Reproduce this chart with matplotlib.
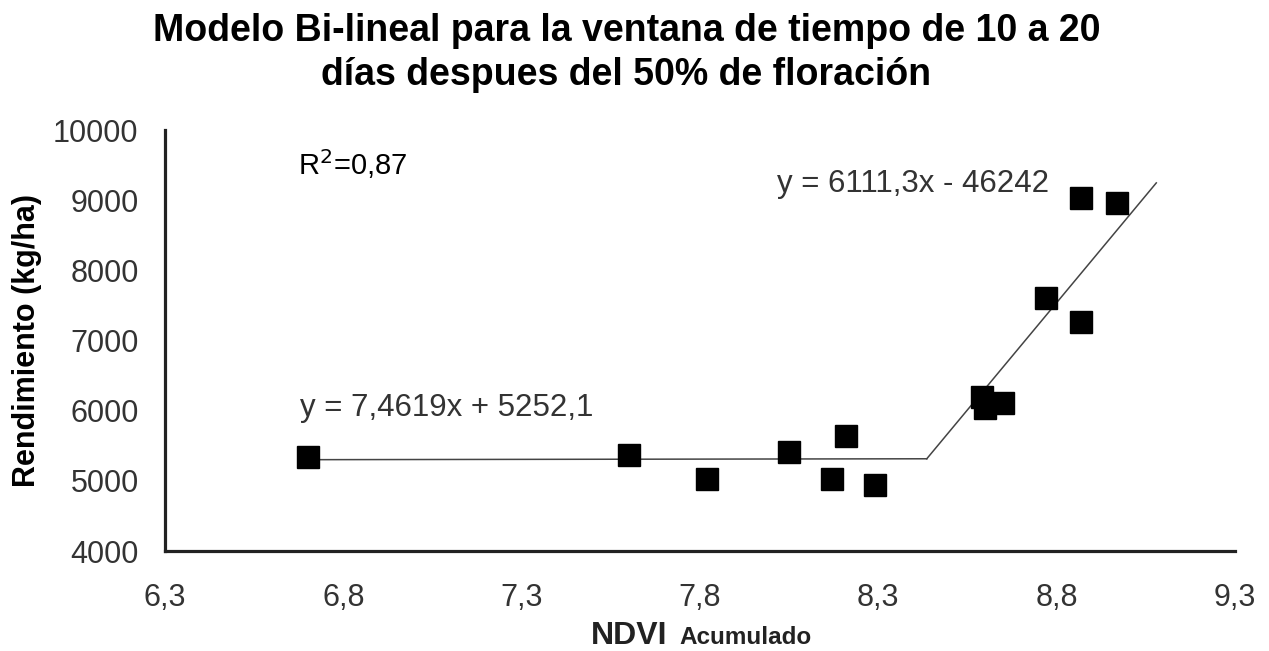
import numpy as np
import matplotlib.pyplot as plt

plt.rcParams['font.family'] = ['Liberation Sans', 'DejaVu Sans']

# NDVI acumulado vs rendimiento
ndvi = [6.70, 7.60, 7.82, 8.05, 8.17, 8.21, 8.29, 8.59, 8.60, 8.65, 8.77, 8.87, 8.87, 8.97]
rend = [5340, 5370, 5030, 5410, 5030, 5640, 4940, 6190, 6040, 6110, 7610, 7270, 9030, 8960]

# tramos del modelo bi-lineal: pendiente, ordenada
slope1, icpt1 = 7.4619, 5252.1
slope2, icpt2 = 6111.3, -46242
x_start, x_end = 6.70, 9.08

xticks = [6.3, 6.8, 7.3, 7.8, 8.3, 8.8, 9.3]
yticks = [4000, 5000, 6000, 7000, 8000, 9000, 10000]

fig = plt.figure(figsize=(12.69, 6.51), dpi=100)
ax = fig.add_axes([0.130, 0.1536, 0.843, 0.6464])

x_break = (icpt1 - icpt2) / (slope2 - slope1)
xa = np.array([x_start, x_break])
xb = np.array([x_break, x_end])
ax.plot(xa, slope1 * xa + icpt1, color='#444444', lw=1.1, zorder=2)
ax.plot(xb, slope2 * xb + icpt2, color='#444444', lw=1.1, zorder=2)

ax.plot(ndvi, rend, 's', color='black', ms=16, zorder=3)

ax.set_xlim(6.3, 9.3)
ax.set_ylim(4000, 10000)
ax.set_xticks(xticks)
ax.set_xticklabels([f'{t:.1f}'.replace('.', ',') for t in xticks])
ax.set_yticks(yticks)
ax.tick_params(length=0, labelsize=22, colors='#333333')
ax.tick_params(axis='y', pad=19)
ax.tick_params(axis='x', pad=23)

for s in ['top', 'right']:
    ax.spines[s].set_visible(False)
for s in ['left', 'bottom']:
    ax.spines[s].set_linewidth(2.3)
    ax.spines[s].set_color('#222222')

ax.set_ylabel('Rendimiento (kg/ha)', fontsize=22, fontweight='bold')
ax.yaxis.set_label_coords(-0.115, 0.5)

ax.text(6.673, 9514, 'R$^2$=0,87', fontsize=21, va='center', ha='left', color='black')
ax.text(6.678, 6043, 'y = 7,4619x + 5252,1', fontsize=22.5, va='center', ha='left', color='#333333')
ax.text(8.016, 9229, 'y = 6111,3x - 46242', fontsize=22.5, va='center', ha='left', color='#333333')

fig.text(0.4937, 0.918, 'Modelo Bi-lineal para la ventana de tiempo de 10 a 20\ndías despues del 50% de floración',
         ha='center', va='center', fontsize=27, fontweight='bold', linespacing=1.28)

fig.text(0.526, 0.011, 'NDVI', ha='right', va='baseline', fontsize=23, fontweight='bold', color='#222222')
fig.text(0.535, 0.011, 'Acumulado', ha='left', va='baseline', fontsize=17.5, fontweight='bold', color='#222222')

fig.savefig('out.png', dpi=100)
